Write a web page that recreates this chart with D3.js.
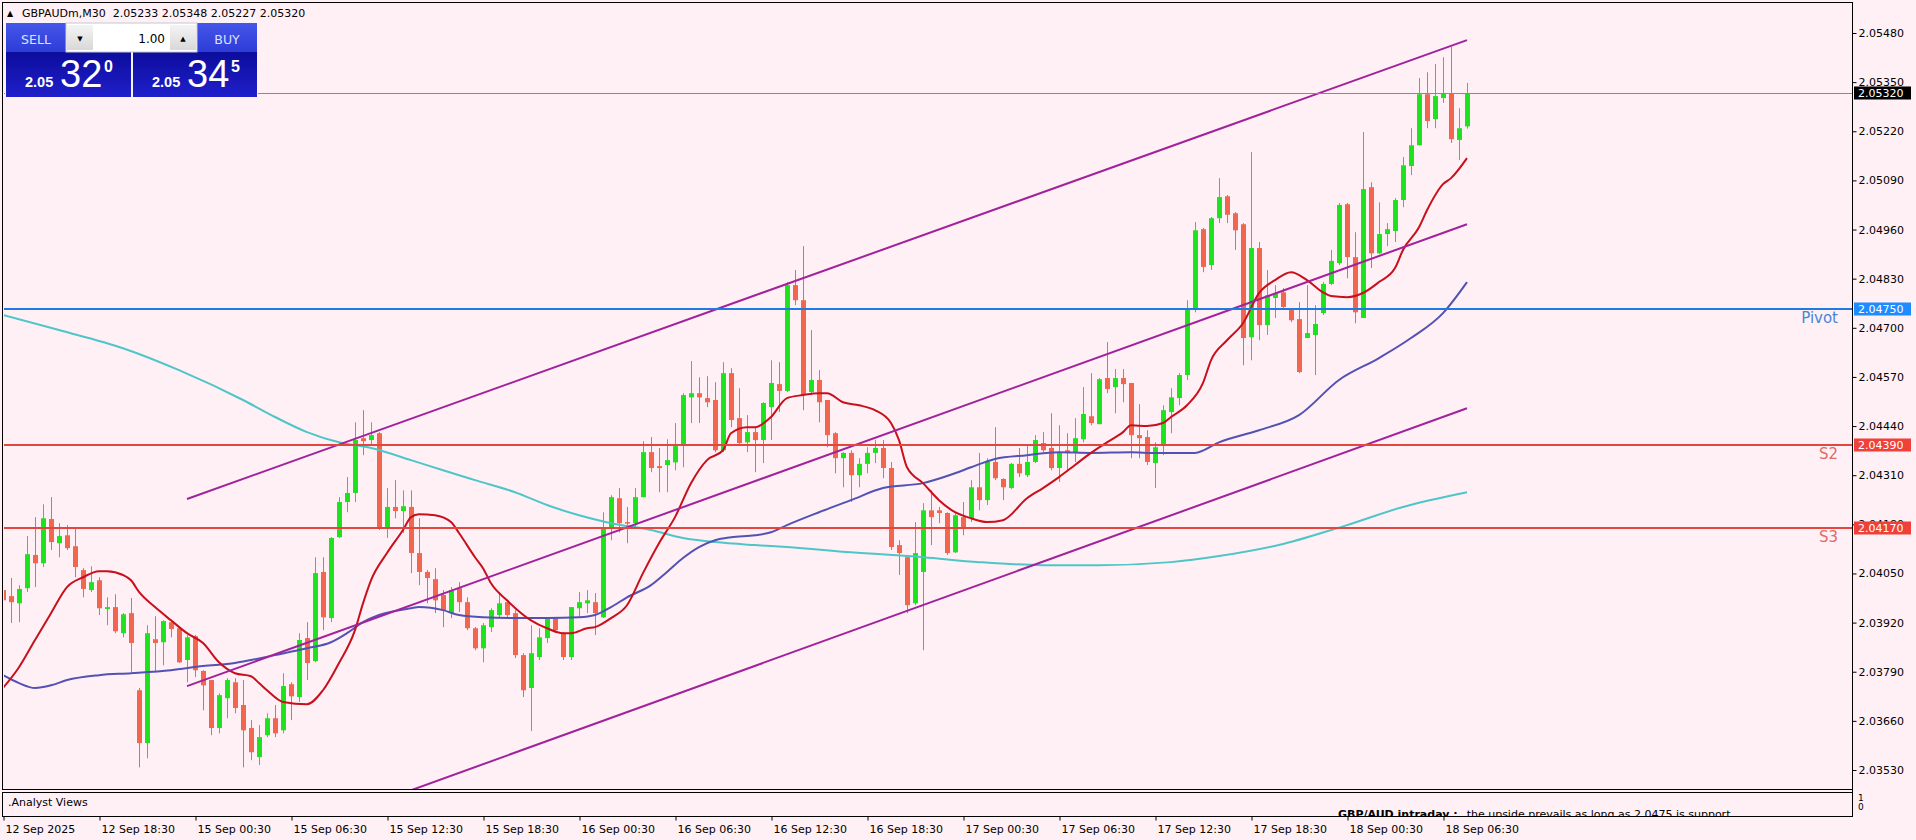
<!DOCTYPE html>
<html><head><meta charset="utf-8">
<script src="https://cdn.jsdelivr.net/npm/d3@7/dist/d3.min.js"></script>
<style>
html,body{margin:0;padding:0;background:#fff0f5;overflow:hidden;}
svg{display:block;}
</style></head><body>
<svg id="c" width="1916" height="840"></svg>
<script>
// ---------------- DATA ----------------
const symbol = "GBPAUDm", timeframe = "M30";
const opens = [
2.04006,2.03990,2.03971,2.04011,2.04099,2.04077,2.04194,2.04130,2.04151,2.04122,
2.04059,2.04006,2.04032,2.03956,2.03961,2.03892,2.03945,2.03741,2.03601,2.03876,
2.03868,2.03921,2.03905,2.03821,2.03884,2.03792,2.03768,2.03641,2.03720,2.03762,
2.03702,2.03641,2.03564,2.03622,2.03667,2.03635,2.03757,2.03723,2.03879,2.03818,
2.04054,2.03932,2.04146,2.04239,2.04263,2.04408,2.04403,2.04421,2.04170,2.04226,
2.04215,2.04226,2.04104,2.04054,2.04035,2.03993,2.03945,2.04011,2.03974,2.03905,
2.03852,2.03908,2.03940,2.03974,2.03945,2.03834,2.03747,2.03829,2.03879,2.03932,
2.03892,2.03829,2.03958,2.03971,2.03974,2.03934,2.04172,2.04249,2.04186,2.04183,
2.04252,2.04371,2.04334,2.04337,2.04344,2.04390,2.04516,2.04527,2.04514,2.04509,
2.04376,2.04580,2.04461,2.04397,2.04424,2.04403,2.04490,2.04551,2.04533,2.04813,
2.04773,2.04530,2.04562,2.04509,2.04421,2.04355,2.04369,2.04310,2.04340,2.04369,
2.04382,2.04329,2.04125,2.04093,2.03971,2.04054,2.04217,2.04217,2.04210,2.04106,
2.04199,2.04196,2.04278,2.04244,2.04345,2.04300,2.04276,2.04340,2.04310,2.04345,
2.04395,2.04382,2.04329,2.04376,2.04371,2.04405,2.04466,2.04445,2.04567,2.04543,
2.04567,2.04554,2.04416,2.04411,2.04342,2.04390,2.04477,2.04514,2.04575,2.04747,
2.04961,2.04866,2.04990,2.05048,2.05003,2.04974,2.04675,2.04911,2.04707,2.04779,
2.04794,2.04747,2.04723,2.04673,2.04681,2.04739,2.04816,2.04871,2.05027,2.04887,
2.04726,2.05072,2.04897,2.04948,2.04956,2.05038,2.05128,2.05183,2.05318,2.05252,
2.05308,2.05321,2.05197,2.05233];
const highs = [
2.04024,2.04038,2.04019,2.04149,2.04199,2.04233,2.04252,2.04183,2.04178,2.04170,
2.04064,2.04069,2.04040,2.03987,2.03995,2.03945,2.03985,2.03747,2.03913,2.03937,
2.03926,2.03926,2.03908,2.03887,2.03887,2.03794,2.03768,2.03733,2.03773,2.03773,
2.03768,2.03662,2.03649,2.03680,2.03702,2.03786,2.03762,2.03892,2.03921,2.04093,
2.04093,2.04146,2.04252,2.04305,2.04450,2.04482,2.04450,2.04424,2.04276,2.04297,
2.04270,2.04270,2.04196,2.04059,2.04064,2.04006,2.04014,2.04027,2.03987,2.03908,
2.03919,2.03958,2.04001,2.03979,2.03953,2.03839,2.03913,2.03905,2.03934,2.03934,
2.03895,2.03961,2.04001,2.04006,2.03998,2.04212,2.04257,2.04276,2.04226,2.04276,
2.04400,2.04411,2.04382,2.04405,2.04448,2.04527,2.04612,2.04569,2.04572,2.04556,
2.04609,2.04593,2.04540,2.04469,2.04437,2.04503,2.04614,2.04609,2.04821,2.04853,
2.04916,2.04694,2.04588,2.04509,2.04424,2.04371,2.04376,2.04355,2.04384,2.04403,
2.04403,2.04345,2.04138,2.04099,2.04186,2.04236,2.04270,2.04226,2.04212,2.04210,
2.04239,2.04297,2.04369,2.04355,2.04437,2.04302,2.04342,2.04382,2.04390,2.04416,
2.04424,2.04474,2.04442,2.04421,2.04461,2.04543,2.04580,2.04567,2.04662,2.04591,
2.04591,2.04554,2.04498,2.04429,2.04397,2.04495,2.04540,2.04580,2.04773,2.04980,
2.04964,2.04993,2.05096,2.05051,2.05006,2.04977,2.05165,2.04927,2.04853,2.04813,
2.04805,2.04752,2.04768,2.04813,2.04760,2.04821,2.04906,2.05030,2.05030,2.04953,
2.05218,2.05085,2.05032,2.04977,2.05043,2.05152,2.05228,2.05361,2.05376,2.05398,
2.05416,2.05443,2.05281,2.05348];
const lows = [
2.03919,2.03919,2.03921,2.04001,2.04014,2.04067,2.04112,2.04093,2.04112,2.04040,
2.03987,2.04001,2.03940,2.03913,2.03892,2.03881,2.03789,2.03537,2.03561,2.03789,
2.03807,2.03881,2.03813,2.03762,2.03776,2.03688,2.03622,2.03627,2.03667,2.03680,
2.03537,2.03556,2.03543,2.03617,2.03617,2.03627,2.03662,2.03710,2.03768,2.03815,
2.03900,2.03921,2.04144,2.04212,2.04239,2.04363,2.04390,2.04165,2.04144,2.04196,
2.04157,2.04051,2.04019,2.03971,2.03945,2.03908,2.03932,2.03948,2.03900,2.03847,
2.03815,2.03895,2.03934,2.03934,2.03826,2.03723,2.03633,2.03821,2.03866,2.03892,
2.03821,2.03821,2.03934,2.03945,2.03887,2.03932,2.04138,2.04159,2.04130,2.04172,
2.04252,2.04318,2.04265,2.04265,2.04323,2.04331,2.04448,2.04448,2.04490,2.04371,
2.04371,2.04437,2.04390,2.04371,2.04318,2.04342,2.04403,2.04477,2.04530,2.04760,
2.04482,2.04522,2.04450,2.04384,2.04315,2.04278,2.04239,2.04278,2.04315,2.04342,
2.04302,2.04112,2.04046,2.03945,2.03966,2.03847,2.04125,2.04183,2.04099,2.04104,
2.04151,2.04186,2.04217,2.04231,2.04297,2.04244,2.04273,2.04305,2.04305,2.04342,
2.04371,2.04323,2.04292,2.04323,2.04345,2.04397,2.04442,2.04445,2.04527,2.04474,
2.04503,2.04355,2.04355,2.04337,2.04276,2.04363,2.04421,2.04495,2.04562,2.04741,
2.04847,2.04853,2.04977,2.04977,2.04906,2.04601,2.04614,2.04667,2.04681,2.04726,
2.04747,2.04715,2.04580,2.04673,2.04575,2.04734,2.04813,2.04866,2.04831,2.04712,
2.04726,2.04858,2.04895,2.04916,2.04927,2.05019,2.05104,2.05183,2.05228,2.05228,
2.05295,2.05189,2.05144,2.05227];
const closes = [
2.03979,2.03974,2.04009,2.04101,2.04077,2.04196,2.04133,2.04149,2.04117,2.04067,
2.04009,2.04027,2.03958,2.03961,2.03897,2.03942,2.03866,2.03601,2.03892,2.03866,
2.03924,2.03903,2.03815,2.03881,2.03794,2.03754,2.03641,2.03728,2.03768,2.03694,
2.03635,2.03577,2.03617,2.03667,2.03627,2.03752,2.03725,2.03874,2.03813,2.04051,
2.03934,2.04144,2.04239,2.04263,2.04403,2.04400,2.04416,2.04170,2.04226,2.04215,
2.04228,2.04104,2.04054,2.04038,2.03979,2.03953,2.04006,2.03974,2.03905,2.03852,
2.03913,2.03953,2.03971,2.03940,2.03834,2.03741,2.03839,2.03881,2.03932,2.03900,
2.03829,2.03961,2.03974,2.03979,2.03945,2.04172,2.04252,2.04183,2.04183,2.04252,
2.04371,2.04329,2.04329,2.04350,2.04387,2.04522,2.04527,2.04516,2.04503,2.04376,
2.04580,2.04456,2.04395,2.04424,2.04403,2.04501,2.04554,2.04533,2.04813,2.04773,
2.04522,2.04562,2.04503,2.04416,2.04355,2.04369,2.04310,2.04340,2.04369,2.04382,
2.04329,2.04120,2.04104,2.03966,2.04104,2.04217,2.04199,2.04210,2.04104,2.04204,
2.04172,2.04278,2.04244,2.04345,2.04302,2.04278,2.04340,2.04315,2.04345,2.04403,
2.04376,2.04329,2.04371,2.04369,2.04408,2.04472,2.04448,2.04564,2.04538,2.04567,
2.04551,2.04416,2.04408,2.04345,2.04384,2.04482,2.04516,2.04575,2.04747,2.04958,
2.04861,2.04990,2.05046,2.04999,2.04958,2.04673,2.04911,2.04707,2.04786,2.04792,
2.04755,2.04720,2.04583,2.04686,2.04710,2.04816,2.04877,2.05025,2.04887,2.04741,
2.05067,2.04897,2.04948,2.04961,2.05038,2.05130,2.05183,2.05318,2.05247,2.05313,
2.05321,2.05199,2.05228,2.05320];

// moving averages: [bar index, value]
const maFastBars = [0,2,4,6,8,10,12,13,15,16,17,19,21,23,25,27,29,31,32,33,35,38,40,42,44,45,46,48,50,51,52,54,56,57,59,60,61,63,66,68,70,71,73,74,76,78,80,82,84,86,88,90,91,93,94,96,98,100,102,103,105,107,109,111,112,113,115,117,119,121,123,125,128,130,132,134,136,138,140,141,143,145,146,148,150,151,153,155,157,159,161,163,165,166,168,170,172,174,175,177,178,180,181,183];
const maFastVals = [2.03747,2.03802,2.03874,2.03945,2.04014,2.04040,2.04056,2.04056,2.04046,2.04032,2.04001,2.03961,2.03926,2.03892,2.03866,2.03815,2.03786,2.03778,2.03760,2.03741,2.03710,2.03704,2.03741,2.03813,2.03900,2.03971,2.04032,2.04104,2.04165,2.04199,2.04207,2.04204,2.04186,2.04157,2.04093,2.04064,2.04024,2.03979,2.03926,2.03905,2.03892,2.03892,2.03905,2.03908,2.03932,2.03966,2.04051,2.04130,2.04199,2.04289,2.04350,2.04376,2.04421,2.04437,2.04437,2.04464,2.04514,2.04522,2.04527,2.04527,2.04503,2.04495,2.04482,2.04448,2.04403,2.04331,2.04289,2.04244,2.04212,2.04196,2.04186,2.04191,2.04249,2.04276,2.04305,2.04337,2.04369,2.04397,2.04424,2.04442,2.04440,2.04448,2.04464,2.04495,2.04554,2.04614,2.04667,2.04712,2.04792,2.04826,2.04847,2.04826,2.04794,2.04784,2.04781,2.04792,2.04821,2.04858,2.04906,2.04966,2.05011,2.05080,2.05096,2.05149];
const maMidBars = [0,2,4,6,8,12,16,21,25,29,31,34,38,41,43,45,47,51,52,55,57,60,64,68,72,74,76,78,81,83,85,87,89,91,94,96,98,102,106,110,115,119,121,124,128,132,136,141,143,149,152,157,162,167,172,176,180,183];
const maMidVals = [2.03781,2.03760,2.03747,2.03754,2.03768,2.03781,2.03786,2.03794,2.03805,2.03813,2.03821,2.03834,2.03852,2.03868,2.03892,2.03921,2.03940,2.03958,2.03961,2.03953,2.03940,2.03934,2.03932,2.03932,2.03934,2.03940,2.03961,2.03987,2.04019,2.04054,2.04091,2.04120,2.04138,2.04146,2.04151,2.04159,2.04178,2.04212,2.04244,2.04276,2.04289,2.04315,2.04331,2.04353,2.04363,2.04371,2.04369,2.04371,2.04369,2.04369,2.04397,2.04429,2.04469,2.04562,2.04620,2.04673,2.04739,2.04821];
const maSlowBars = [0,7,15,22,30,34,38,42,46,51,55,59,64,68,72,76,81,85,89,94,98,106,115,122,130,137,146,152,160,168,175,183];
const maSlowVals = [2.04734,2.04694,2.04646,2.04588,2.04509,2.04464,2.04424,2.04397,2.04382,2.04350,2.04323,2.04297,2.04265,2.04231,2.04204,2.04183,2.04165,2.04144,2.04133,2.04125,2.04120,2.04106,2.04093,2.04080,2.04072,2.04072,2.04080,2.04096,2.04128,2.04178,2.04226,2.04265];

// equidistant channel: [start bar, end bar], prices of each line at both ends
const channelBars = [23, 183];
const channelUpper = [2.04247, 2.05461];
const channelMiddle = [2.03752, 2.04974];
const channelLower = [2.03262, 2.04487];

// horizontal levels
const levelNames = ["Pivot", "S2", "S3"];
const levelValues = [2.04750, 2.04390, 2.04170];
const currentPrice = 2.05320;

// axis ticks
const priceTicks = [2.05480,2.05350,2.05220,2.05090,2.04960,2.04830,2.04700,2.04570,2.04440,2.04310,2.04180,2.04050,2.03920,2.03790,2.03660,2.03530];
const timeTickBars = [0,12,24,36,48,60,72,84,96,108,120,132,144,156,168,180];
const timeLabels = ["12 Sep 2025","12 Sep 18:30","15 Sep 00:30","15 Sep 06:30","15 Sep 12:30","15 Sep 18:30","16 Sep 00:30","16 Sep 06:30","16 Sep 12:30","16 Sep 18:30","17 Sep 00:30","17 Sep 06:30","17 Sep 12:30","17 Sep 18:30","18 Sep 00:30","18 Sep 06:30"];

// one-click panel
const lotSize = "1.00";
const sellQuote = ["2.05", "32", "0"];
const buyQuote = ["2.05", "34", "5"];
const subTitle = ".Analyst Views";
const viewHead = "GBP/AUD intraday :";
const viewText = "the upside prevails as long as 2.0475 is support";

// ---------------- DRAW ----------------
const FONT = "DejaVu Sans, Verdana, sans-serif";
const svg = d3.select("#c");
const L = 3, R = 1852, T = 3, B = 789, SUBT = 793, SUBB = 816;

const x = d3.scaleLinear().domain([0, 183]).range([3, 1467]);
const y = d3.scaleLinear().domain([2.03530, 2.05480]).range([770, 33]);

const defs = svg.append("defs");
defs.append("clipPath").attr("id", "plotClip").append("rect")
  .attr("x", L + 1).attr("y", T + 1).attr("width", R - L - 1).attr("height", B - T - 1);
defs.append("clipPath").attr("id", "subClip").append("rect")
  .attr("x", L + 1).attr("y", SUBT + 1).attr("width", R - L - 1).attr("height", SUBB - SUBT - 1);

function grad(id, c1, c2) {
  const g = defs.append("linearGradient").attr("id", id).attr("x1", 0).attr("y1", 0).attr("x2", 0).attr("y2", 1);
  g.append("stop").attr("offset", "0%").attr("stop-color", c1);
  g.append("stop").attr("offset", "100%").attr("stop-color", c2);
}
grad("gTop", "#4656ea", "#2c3cd6");
grad("gBot", "#0c0c9c", "#2020cc");
grad("gArrow", "#f4f4f4", "#d8d8d8");

svg.append("rect").attr("width", 1916).attr("height", 840).attr("fill", "#fff0f5");

const plot = svg.append("g").attr("clip-path", "url(#plotClip)");

// candles
const bars = d3.range(opens.length).map(i => ({ i, o: opens[i], h: highs[i], l: lows[i], c: closes[i] }));
const bull = "#1ee21e", bear = "#f2664f";
plot.append("g").selectAll("line").data(bars).join("line")
  .attr("x1", d => Math.round(x(d.i)) + 0.5).attr("x2", d => Math.round(x(d.i)) + 0.5)
  .attr("y1", d => y(d.h)).attr("y2", d => y(d.l))
  .attr("stroke", d => d.c >= d.o ? bull : bear).attr("stroke-width", 1);
plot.append("g").selectAll("rect").data(bars).join("rect")
  .attr("x", d => Math.round(x(d.i)) - 2).attr("width", 5)
  .attr("y", d => y(Math.max(d.o, d.c)))
  .attr("height", d => Math.max(1.5, Math.abs(y(d.o) - y(d.c))))
  .attr("fill", d => d.c >= d.o ? bull : bear);

// moving averages
function maLine(barsArr, vals, color, w) {
  const pts = barsArr.map((b, k) => [x(b), y(vals[k])]);
  plot.append("path").attr("d", d3.line().curve(d3.curveMonotoneX)(pts))
    .attr("fill", "none").attr("stroke", color).attr("stroke-width", w).attr("stroke-linejoin", "round");
}
maLine(maSlowBars, maSlowVals, "#4ec6c8", 2);
maLine(maMidBars, maMidVals, "#5252b4", 2);
maLine(maFastBars, maFastVals, "#c8101c", 2);

// channel
[channelUpper, channelMiddle, channelLower].forEach(v => {
  plot.append("line")
    .attr("x1", x(channelBars[0])).attr("y1", y(v[0]))
    .attr("x2", x(channelBars[1])).attr("y2", y(v[1]))
    .attr("stroke", "#a0229c").attr("stroke-width", 2);
});

// current price line
plot.append("line").attr("x1", L).attr("x2", R)
  .attr("y1", Math.round(y(currentPrice)) + 0.5).attr("y2", Math.round(y(currentPrice)) + 0.5)
  .attr("stroke", "#8a8a8a").attr("stroke-width", 1);

// levels
const levelLine = ["#1f7ae4", "#e2463f", "#e2463f"];
const levelText = ["#4a86d6", "#df6a66", "#df6a66"];
const levelBox = ["#1e8cff", "#f0403a", "#f0403a"];
levelValues.forEach((v, k) => {
  plot.append("line").attr("x1", L).attr("x2", R).attr("y1", y(v)).attr("y2", y(v))
    .attr("stroke", levelLine[k]).attr("stroke-width", 2);
  plot.append("text").attr("x", 1838).attr("y", y(v) + 14).attr("text-anchor", "end")
    .attr("font-family", FONT).attr("font-size", 15).attr("fill", levelText[k]).text(levelNames[k]);
});

// frames
const frame = svg.append("g").attr("fill", "none").attr("stroke", "#000").attr("stroke-width", 1);
frame.append("rect").attr("x", L - 0.5).attr("y", T - 0.5).attr("width", R - L + 1).attr("height", B - T + 1);
frame.append("rect").attr("x", L - 0.5).attr("y", SUBT - 0.5).attr("width", R - L + 1).attr("height", SUBB - SUBT + 1);

// price axis
const yAxis = svg.append("g").attr("transform", `translate(${R + 0.5},0)`)
  .call(d3.axisRight(y).tickValues(priceTicks).tickSize(4).tickPadding(2).tickFormat(d => d.toFixed(5)));
yAxis.select(".domain").remove();
yAxis.selectAll("text").attr("font-family", FONT).attr("font-size", 11).attr("fill", "#000");
yAxis.selectAll("line").attr("stroke", "#000");
svg.append("line").attr("x1", R + 0.5).attr("x2", R + 0.5).attr("y1", T).attr("y2", SUBB + 1).attr("stroke", "#000");

// value boxes on axis
function valueBox(v, bg) {
  const yy = Math.round(y(v));
  svg.append("rect").attr("x", R + 2).attr("y", yy - 6.5).attr("width", 57).attr("height", 13).attr("fill", bg);
  svg.append("text").attr("x", R + 6).attr("y", yy + 4).attr("font-family", FONT).attr("font-size", 11)
    .attr("fill", "#fff").text(v.toFixed(5));
}
valueBox(currentPrice, "#000");
levelValues.forEach((v, k) => valueBox(v, levelBox[k]));

// sub window labels
svg.append("text").attr("x", R + 6).attr("y", 801).attr("font-family", FONT).attr("font-size", 9).text("1");
svg.append("text").attr("x", R + 6).attr("y", 810).attr("font-family", FONT).attr("font-size", 9).text("0");
svg.append("text").attr("x", 8).attr("y", 806).attr("font-family", FONT).attr("font-size", 11).text(subTitle);
const sub = svg.append("g").attr("clip-path", "url(#subClip)");
const vt = sub.append("text").attr("x", 1338).attr("y", 818).attr("font-family", FONT).attr("font-size", 11);
vt.append("tspan").attr("font-weight", "bold").text(viewHead);
vt.append("tspan").attr("dx", 9).text(viewText);

// time axis
const xAxis = svg.append("g").attr("transform", `translate(0,${SUBB + 0.5})`)
  .call(d3.axisBottom(x).tickValues(timeTickBars).tickSize(4).tickFormat((d, k) => timeLabels[k]));
xAxis.select(".domain").remove();
xAxis.selectAll("line").attr("stroke", "#000").attr("transform", "translate(0.5,0)");
xAxis.selectAll("text").attr("text-anchor", "start").attr("dx", 2).attr("y", 9)
  .attr("font-family", FONT).attr("font-size", 11).attr("fill", "#000");

// title
const last = bars[bars.length - 1];
svg.append("text").attr("x", 7).attr("y", 16).attr("font-size", 8).attr("font-family", FONT).text("▲");
svg.append("text").attr("x", 22).attr("y", 17).attr("font-family", FONT).attr("font-size", 11).attr("fill", "#000")
  .attr("xml:space", "preserve")
  .text(`${symbol},${timeframe}  ${[last.o, last.h, last.l, last.c].map(v => v.toFixed(5)).join(" ")}`);

// one-click trading panel
const P = svg.append("g");
const PF = "Liberation Sans, Arial, sans-serif";
P.append("rect").attr("x", 5).attr("y", 22).attr("width", 253).attr("height", 76).attr("fill", "#f4f4fa");
P.append("rect").attr("x", 6).attr("y", 23).attr("width", 60).attr("height", 29).attr("fill", "url(#gTop)");
P.append("rect").attr("x", 197).attr("y", 23).attr("width", 60).attr("height", 29).attr("fill", "url(#gTop)");
P.append("rect").attr("x", 6).attr("y", 52).attr("width", 125).attr("height", 45).attr("fill", "url(#gBot)");
P.append("rect").attr("x", 133).attr("y", 52).attr("width", 124).attr("height", 45).attr("fill", "url(#gBot)");
P.append("text").attr("x", 36).attr("y", 44).attr("text-anchor", "middle").attr("font-family", FONT)
  .attr("font-size", 12.5).attr("fill", "#dce2ff").text("SELL");
P.append("text").attr("x", 227).attr("y", 44).attr("text-anchor", "middle").attr("font-family", FONT)
  .attr("font-size", 12.5).attr("fill", "#dce2ff").text("BUY");
// lot box
P.append("rect").attr("x", 66).attr("y", 23).attr("width", 131).attr("height", 29).attr("fill", "#fff").attr("stroke", "#c8c8d0");
P.append("rect").attr("x", 67).attr("y", 25).attr("width", 26).attr("height", 25).attr("fill", "url(#gArrow)");
P.append("rect").attr("x", 170).attr("y", 25).attr("width", 26).attr("height", 25).attr("fill", "url(#gArrow)");
P.append("text").attr("x", 80).attr("y", 41).attr("text-anchor", "middle").attr("font-size", 7).attr("font-family", FONT).text("▼");
P.append("text").attr("x", 183).attr("y", 41).attr("text-anchor", "middle").attr("font-size", 7).attr("font-family", FONT).text("▲");
P.append("text").attr("x", 165).attr("y", 43).attr("text-anchor", "end").attr("font-family", FONT)
  .attr("font-size", 12).attr("fill", "#000").text(lotSize);
function quote(q, x0) {
  P.append("text").attr("x", x0).attr("y", 87).attr("font-family", PF).attr("font-weight", "bold")
    .attr("font-size", 14.5).attr("fill", "#fff").text(q[0]);
  P.append("text").attr("x", x0 + 35).attr("y", 87).attr("font-family", PF)
    .attr("font-size", 38).attr("fill", "#fff").text(q[1]);
  P.append("text").attr("x", x0 + 79).attr("y", 72).attr("font-family", PF).attr("font-weight", "bold")
    .attr("font-size", 16).attr("fill", "#fff").text(q[2]);
}
quote(sellQuote, 25);
quote(buyQuote, 152);
</script>
</body></html>
